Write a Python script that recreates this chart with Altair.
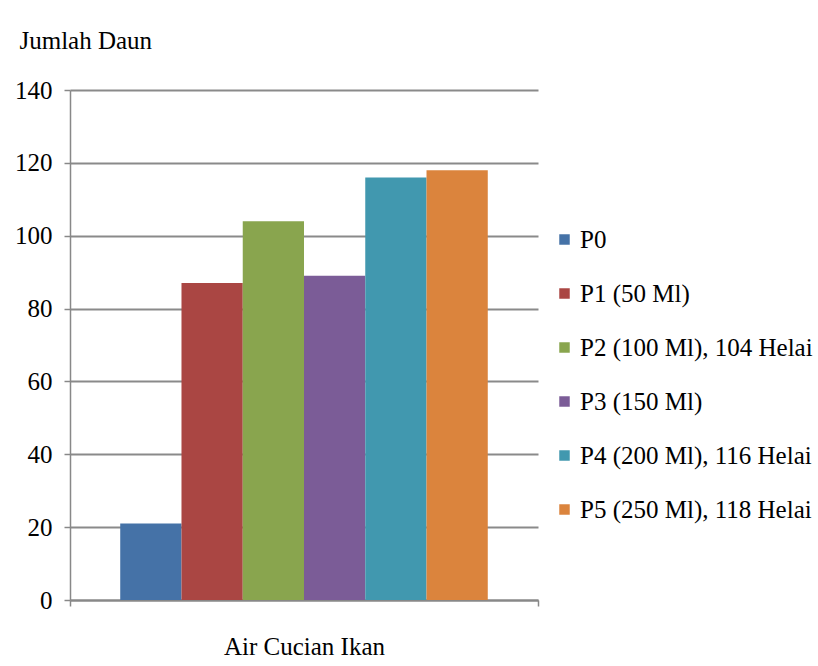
import altair as alt
import pandas as pd

category = ["Air Cucian Ikan"]
series = ["P0", "P1 (50 Ml)", "P2 (100 Ml), 104 Helai", "P3 (150 Ml)",
          "P4 (200 Ml), 116 Helai", "P5 (250 Ml), 118 Helai"]
values = [21, 87, 104, 89, 116, 118]
colors = ["#4572A7", "#AA4643", "#89A54E", "#7B5C97", "#4198AF", "#DB843D"]
y_ticks = [0, 20, 40, 60, 80, 100, 120, 140]

df = pd.DataFrame({"kat": category * len(series), "seri": series, "nilai": values})

FONT = "Liberation Serif"

chart = alt.Chart(df).mark_bar().encode(
    x=alt.X("kat:N", title=None,
            scale=alt.Scale(paddingInner=0, paddingOuter=0),
            axis=alt.Axis(labelAngle=0, labelFontSize=25, labelFont=FONT, labelColor="black",
                          labelPadding=28, tickBand="extent", ticks=True, tickSize=6,
                          tickColor="#888888", tickWidth=1.5, domainColor="#888888",
                          domainWidth=2, grid=False)),
    xOffset=alt.XOffset("seri:N", sort=series,
                        scale=alt.Scale(paddingInner=0, paddingOuter=0.82)),
    y=alt.Y("nilai:Q", title="Jumlah Daun",
            scale=alt.Scale(domain=[0, 140], nice=False),
            axis=alt.Axis(values=y_ticks, labelFontSize=25, labelFont=FONT, labelColor="black",
                          labelPadding=12, tickSize=6, tickColor="#888888", tickWidth=1.5,
                          domainColor="#888888", domainWidth=1.5,
                          gridColor="#8a8a8a", gridWidth=2,
                          titleAngle=0, titleAlign="left", titleBaseline="middle",
                          titleX=-51, titleY=-50, titleFont=FONT, titleFontSize=25,
                          titleFontWeight="normal", titleColor="black")),
    color=alt.Color("seri:N", sort=series,
                    scale=alt.Scale(domain=series, range=colors),
                    legend=alt.Legend(title=None, orient="none", legendX=482, legendY=137,
                                      labelFont=FONT, labelFontSize=25, labelColor="black",
                                      symbolType="square", symbolSize=110, symbolStrokeWidth=0,
                                      labelOffset=3, rowPadding=28, labelLimit=400)),
).properties(
    width=468, height=510,
    autosize=alt.AutoSizeParams(type="none"),
    padding={"left": 70, "top": 90, "right": 280, "bottom": 66},
).configure(background="white", font=FONT).configure_view(stroke=None)

chart.save("out.html", embed_options={"renderer": "svg", "actions": False})
